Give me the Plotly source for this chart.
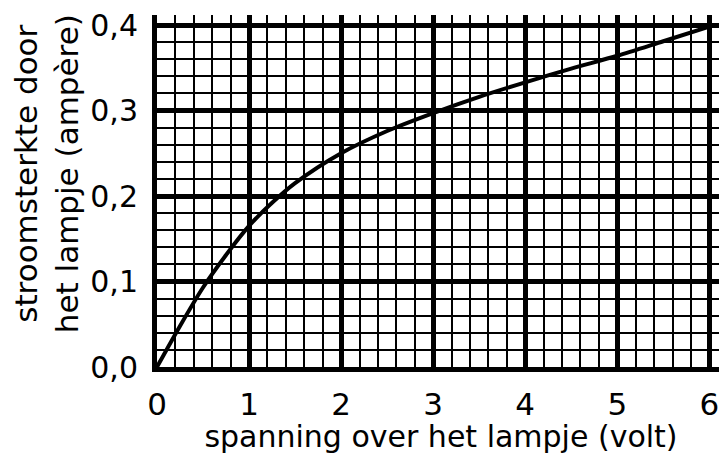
import plotly.graph_objects as go

# spanning (volt) en stroomsterkte (ampère)
spanning = [0, 0.25, 0.5, 0.75, 1.0, 1.25, 1.5, 2.0, 2.5, 3.0, 3.5, 4.0, 4.5, 5.0, 5.5, 6.0]
stroom = [0, 0.048, 0.093, 0.131, 0.165, 0.192, 0.215, 0.250, 0.276, 0.297, 0.316, 0.333, 0.349, 0.364, 0.381, 0.398]

x_ticks = [0, 1, 2, 3, 4, 5, 6]
x_labels = ["0", "1", "2", "3", "4", "5", "6"]
y_ticks = [0, 0.1, 0.2, 0.3, 0.4]
y_labels = ["0,0", "0,1", "0,2", "0,3", "0,4"]

FONT = "DejaVu Sans"
INK = "black"

fig = go.Figure()
fig.add_trace(go.Scatter(
    x=spanning,
    y=stroom,
    mode="lines",
    line=dict(color=INK, width=4, shape="spline", smoothing=0.8),
    showlegend=False,
    hoverinfo="skip",
))

# de pagina heeft 8px body-marge, daarom 719x446
fig.update_layout(
    width=719,
    height=446,
    paper_bgcolor="white",
    plot_bgcolor="white",
    font=dict(family=FONT, color=INK, size=30),
    margin=dict(l=149, r=2, t=7, b=87, autoexpand=False),
    xaxis=dict(
        range=[0, 6.17],
        tickvals=x_ticks,
        ticktext=x_labels,
        showgrid=True, gridcolor=INK, gridwidth=5,
        minor=dict(dtick=0.2, tick0=0, showgrid=True, gridcolor=INK, gridwidth=2),
        showline=True, linecolor=INK, linewidth=5,
        zeroline=False, ticks="", ticklabelstandoff=6,
        ticklabeloverflow="allow",
        automargin=False,
        tickfont=dict(size=31),
        title=dict(text="spanning over het lampje (volt)", font=dict(size=30), standoff=0),
    ),
    yaxis=dict(
        range=[0, 0.4117],
        tickvals=y_ticks,
        ticktext=y_labels,
        showgrid=True, gridcolor=INK, gridwidth=5,
        minor=dict(dtick=0.02, tick0=0, showgrid=True, gridcolor=INK, gridwidth=2),
        showline=True, linecolor=INK, linewidth=5,
        zeroline=False, ticks="", ticklabelstandoff=8,
        ticklabeloverflow="allow",
        automargin=False,
        tickfont=dict(size=30),
    ),
)

# y-titel als annotatie, iets boven het midden zoals in het origineel
fig.add_annotation(
    text="stroomsterkte door<br>het lampje (ampère)",
    xref="paper", yref="paper",
    x=-0.194, y=0.55,
    xanchor="center", yanchor="middle",
    textangle=-90,
    showarrow=False,
    font=dict(size=31, family=FONT, color=INK),
)

fig.write_html("out.html")
